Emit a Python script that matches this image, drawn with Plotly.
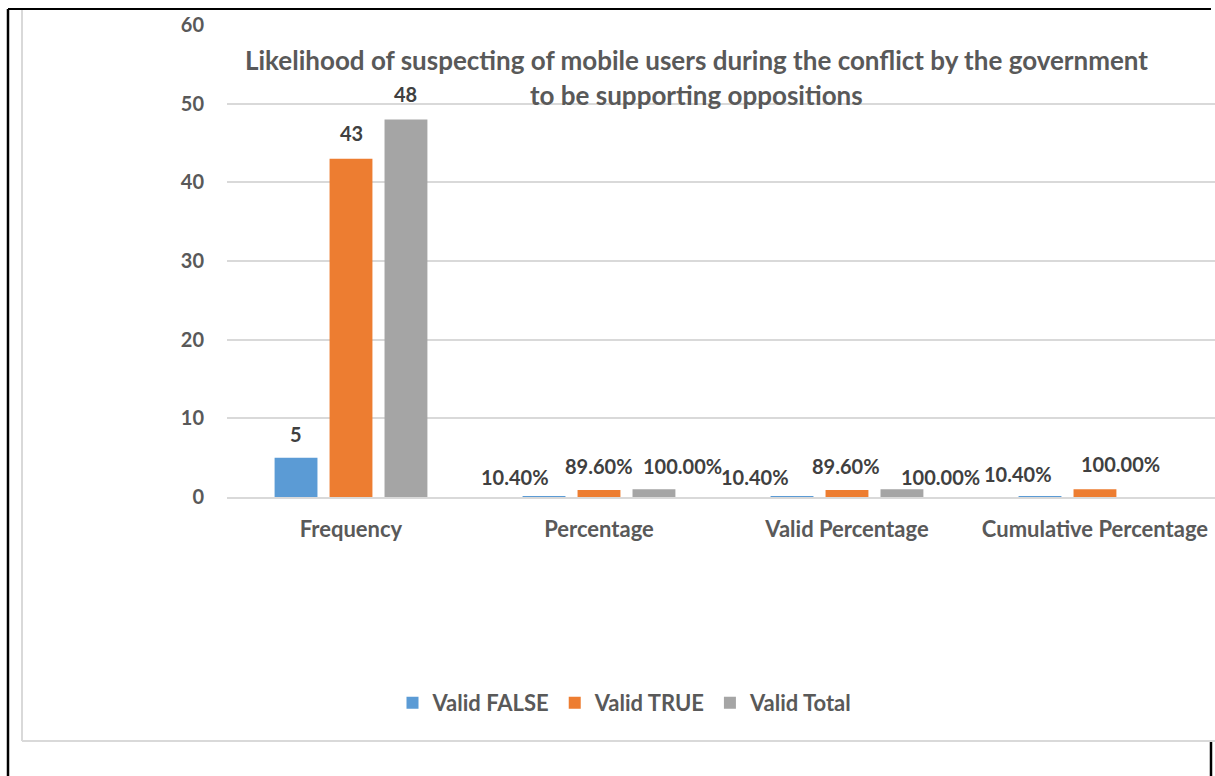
import plotly.graph_objects as go

# ---- data ----
categories = ["Frequency", "Percentage", "Valid Percentage", "Cumulative Percentage"]
series_names = ["Valid FALSE", "Valid TRUE", "Valid Total"]
valid_false = [5, 0.104, 0.104, 0.104]
valid_true = [43, 0.896, 0.896, 1.0]
valid_total = [48, 1.0, 1.0, None]
y_ticks = [0, 10, 20, 30, 40, 50, 60]

# ---- styling ----
W, H = 1215, 776
PLOT_L, PLOT_R, PLOT_T, PLOT_B = 227, 1215, 25, 497
colors = ["#5B9BD5", "#ED7D31", "#A5A5A5"]
FONT = "Lato"
AXIS_GRAY = "#595959"
LABEL_GRAY = "#404040"
BARGAP = 0.335
BARGROUPGAP = 0.22
X_RANGE = [-0.5, 3.484]

# label nudges in pixels per (category, series): (dx, height of label centre above bar top)
label_nudge = [
    [(0, 24), (0, 26), (0, 25)],
    [(-29, 19), (0, 24), (29, 23)],
    [(-37, 19), (-1, 24), (39, 12)],
    [(-22, 22), (26, 25), None],
]

series_values = [valid_false, valid_true, valid_total]

fig = go.Figure()
for name, vals, col in zip(series_names, series_values, colors):
    fig.add_trace(go.Bar(name=name, x=categories, y=vals, marker_color=col,
                         marker_line_width=0))


def fmt(ci, v):
    return f"{v:g}" if ci == 0 else f"{v * 100:.2f}%"


# pixel geometry of the category axis, used to place the value labels over each bar
plot_w = PLOT_R - PLOT_L
cat_px = plot_w / (X_RANGE[1] - X_RANGE[0])
slot_px = cat_px * (1 - BARGAP) / len(series_values)

annotations = []
for ci, cat in enumerate(categories):
    for si, vals in enumerate(series_values):
        v = vals[ci]
        nudge = label_nudge[ci][si]
        if v is None or nudge is None:
            continue
        dx, dy = nudge
        annotations.append(dict(
            x=cat, y=v, xref="x", yref="y", text=fmt(ci, v), showarrow=False,
            xanchor="center", yanchor="middle",
            xshift=(si - 1) * slot_px + dx, yshift=dy,
            font=dict(family=FONT, size=20, color=LABEL_GRAY, weight="bold"),
        ))

# chart title, two centred lines
title_lines = ["Likelihood of suspecting of mobile users during the conflict by the government",
               "to be supporting oppositions"]


def px_x(px):
    return (px - PLOT_L) / plot_w


def px_y(py):
    return (PLOT_B - py) / (PLOT_B - PLOT_T)


for line, py in zip(title_lines, [60, 95]):
    annotations.append(dict(
        x=px_x(696), y=px_y(py), xref="paper", yref="paper", text=line,
        showarrow=False, xanchor="center", yanchor="middle",
        font=dict(family=FONT, size=26, color=AXIS_GRAY, weight="bold"),
    ))

# page frame lines
shapes = [
    dict(type="line", xref="paper", yref="paper", x0=px_x(8), x1=px_x(8), y0=px_y(9), y1=px_y(776),
         line=dict(color="black", width=2.5)),
    dict(type="line", xref="paper", yref="paper", x0=px_x(8), x1=px_x(1211), y0=px_y(9), y1=px_y(9),
         line=dict(color="black", width=2)),
    dict(type="line", xref="paper", yref="paper", x0=px_x(1211), x1=px_x(1211), y0=px_y(742), y1=px_y(776),
         line=dict(color="black", width=2.5)),
    dict(type="line", xref="paper", yref="paper", x0=px_x(22), x1=px_x(22), y0=px_y(10), y1=px_y(741),
         line=dict(color="#D9D9D9", width=2)),
    dict(type="line", xref="paper", yref="paper", x0=px_x(22), x1=px_x(1216), y0=px_y(741), y1=px_y(741),
         line=dict(color="#D9D9D9", width=2)),
]

fig.update_layout(
    width=W, height=H,
    margin=dict(l=PLOT_L, r=W - PLOT_R, t=PLOT_T, b=H - PLOT_B, autoexpand=False),
    paper_bgcolor="white", plot_bgcolor="white",
    barmode="group", bargap=BARGAP, bargroupgap=BARGROUPGAP,
    font=dict(family=FONT, color=AXIS_GRAY),
    showlegend=True,
    legend=dict(orientation="h", x=px_x(625), y=px_y(703), xanchor="center", yanchor="middle",
                font=dict(family=FONT, size=22, color=AXIS_GRAY, weight="bold"),
                itemwidth=30, traceorder="normal", bgcolor="rgba(0,0,0,0)"),
    annotations=annotations,
    shapes=shapes,
)
fig.update_xaxes(
    range=X_RANGE, showgrid=False, showline=True, linecolor="#D9D9D9", linewidth=1.5,
    ticks="", tickfont=dict(family=FONT, size=22, color=AXIS_GRAY, weight="bold"),
    ticklabelstandoff=12, fixedrange=True,
)
fig.update_yaxes(
    range=[0, 60], tickvals=y_ticks, showgrid=True, gridcolor="#D9D9D9", gridwidth=1.5,
    zeroline=False, showline=False, ticks="",
    tickfont=dict(family=FONT, size=20, color=AXIS_GRAY, weight="bold"),
    ticklabelstandoff=22, fixedrange=True,
)

fig.write_html("out.html", config={"displayModeBar": False})
